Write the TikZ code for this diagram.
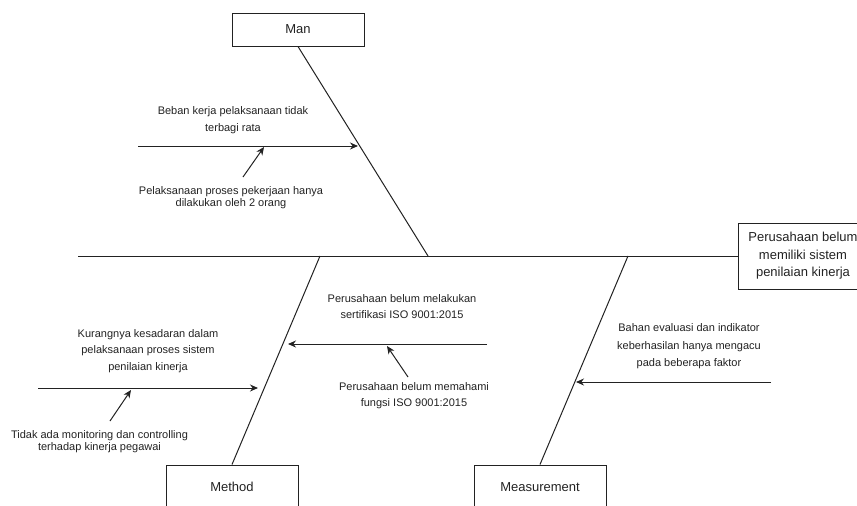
\documentclass[tikz,border=0pt]{standalone}
\usepackage{fontspec}
\setmainfont{Liberation Sans}
\usepackage{xcolor}
\usetikzlibrary{arrows.meta,calc,positioning}
\definecolor{ink}{HTML}{222222}
\tikzset{%
	category/.style = {draw=ink, rectangle, line width=1pt, minimum width=132pt, minimum height=33pt, text=ink, font=\fontsize{13}{17.5}\selectfont},
	effect/.style   = {draw=ink, rectangle, line width=1pt, minimum width=130pt, minimum height=66pt, align=center, text=ink, font=\fontsize{13}{17.5}\selectfont}, % Problem
	note/.style     = {align=center, text=ink, font=\fontsize{11}{16.5}\selectfont},
	tight/.style    = {font=\fontsize{11}{12}\selectfont},
	bone/.style     = {draw=ink, line width=1pt},
	arrow/.style    = {draw=ink, line width=1pt, -{Stealth[length=8pt,width=7pt]}},
	waypoint/.style = {coordinate},
}
\begin{document}
\begin{tikzpicture}[x=1pt, y=-1pt]
	\useasboundingbox (0,0) rectangle (857,506);
	% categories and problem
	\node[category] (man) at (298,29.5) {Man};
	\node[category, minimum height=44pt] (method) at (232,487) {Method};
	\node[category, minimum height=44pt] (measure) at (540,487) {Measurement};
	\node[effect] (problem) at (803,256) {Perusahaan belum\\memiliki sistem\\penilaian kinerja};
	% spine and bones
	\node[waypoint] (tail) at (78,256) {};
	\node[waypoint] (manjoint) at (428,256) {};
	\node[waypoint] (methodjoint) at (320,256) {};
	\node[waypoint] (measurejoint) at (628,256) {};
	\draw[bone] (tail) -- (problem.west);
	\draw[bone] (man.south) -- (manjoint);
	\draw[bone] (method.north) -- (methodjoint);
	\draw[bone] (measure.north) -- (measurejoint);
	% man
	\node[waypoint] (m1a) at (138,146) {};
	\node[waypoint] (m1b) at (358,146) {};
	\node[note] (beban) at (233,120) {Beban kerja pelaksanaan tidak\\terbagi rata};
	\node[note, tight] (dua) at (231,198) {Pelaksanaan proses pekerjaan hanya\\dilakukan oleh 2 orang};
	\node[waypoint] (m2a) at (243,177) {};
	\node[waypoint] (m2b) at (264,147) {};
	\draw[arrow] (m1a) -- (m1b);
	\draw[arrow] (m2a) -- (m2b);
	% method
	\node[waypoint] (k1a) at (38,388) {};
	\node[waypoint] (k1b) at (258,388) {};
	\node[note] (sadar) at (148,351) {Kurangnya kesadaran dalam\\pelaksanaan proses sistem\\penilaian kinerja};
	\node[note, tight] (monitor) at (99.5,442) {Tidak ada monitoring dan controlling\\terhadap kinerja pegawai};
	\node[waypoint] (k2a) at (110,421) {};
	\node[waypoint] (k2b) at (131,390) {};
	\draw[arrow] (k1a) -- (k1b);
	\draw[arrow] (k2a) -- (k2b);
	\node[waypoint] (k3a) at (487,344) {};
	\node[waypoint] (k3b) at (288,344) {};
	\node[note] (sertif) at (402,306.5) {Perusahaan belum melakukan\\sertifikasi ISO 9001:2015};
	\node[note] (fungsi) at (414,395.5) {Perusahaan belum memahami\\fungsi ISO 9001:2015};
	\node[waypoint] (k4a) at (408,377) {};
	\node[waypoint] (k4b) at (387,346) {};
	\draw[arrow] (k3a) -- (k3b);
	\draw[arrow] (k4a) -- (k4b);
	% measurement
	\node[waypoint] (e1a) at (771,382) {};
	\node[waypoint] (e1b) at (576,382) {};
	\node[note, font=\fontsize{11}{17.5}\selectfont] (bahan) at (689,346.5) {Bahan evaluasi dan indikator\\keberhasilan hanya mengacu\\pada beberapa faktor};
	\draw[arrow] (e1a) -- (e1b);
\end{tikzpicture}
\end{document}
